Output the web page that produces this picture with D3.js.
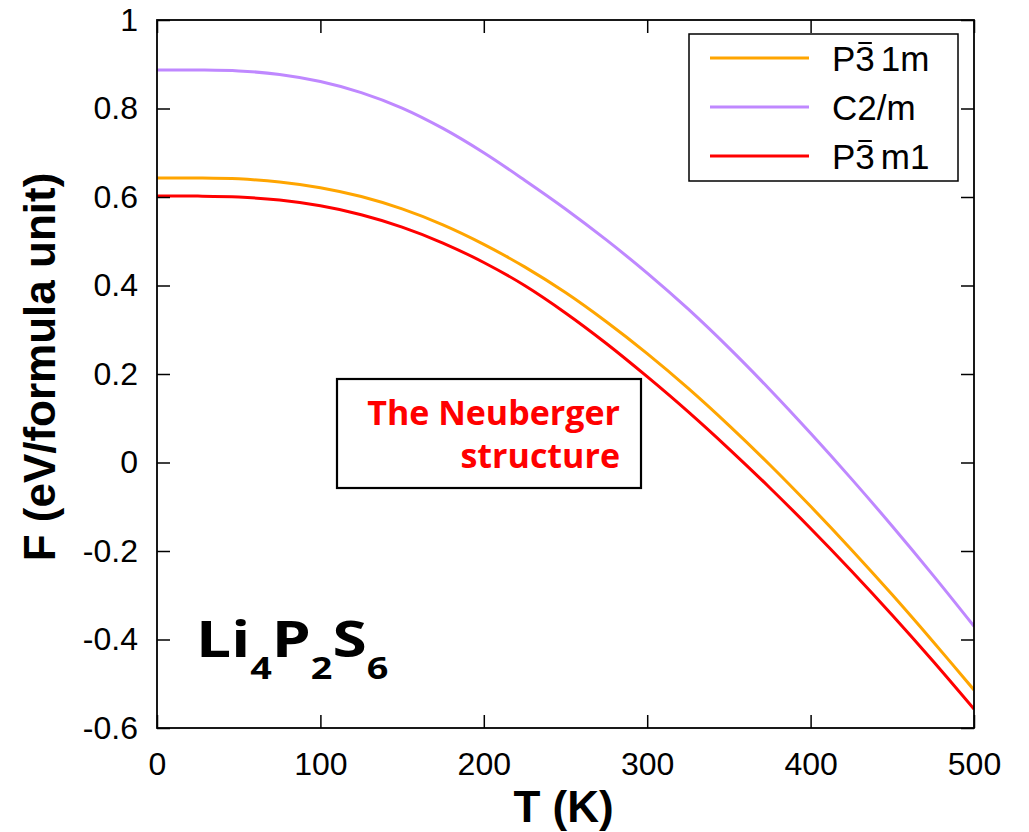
<!DOCTYPE html>
<html lang="en">
<head>
<meta charset="UTF-8">
<title>Li4P2S6 free energy</title>
<script src="https://d3js.org/d3.v7.min.js"></script>
<style>
    body { margin: 0; background: white; }
</style>
</head>
<body>
<svg width="1029" height="832" id="chart"></svg>
<script>
    // temperature grid (K) and free energies (eV/formula unit)
    const temps = [0, 25, 50, 75, 100, 125, 150, 175, 200, 225, 250, 275, 300, 325, 350, 375, 400, 425, 450, 475, 500];
    const fP31m = [0.643, 0.643, 0.641, 0.634, 0.621, 0.601, 0.573, 0.537, 0.493, 0.442, 0.384, 0.318, 0.246, 0.168, 0.084, -0.005, -0.099, -0.197, -0.299, -0.405, -0.514];
    const fC2m = [0.887, 0.887, 0.885, 0.877, 0.861, 0.836, 0.801, 0.755, 0.700, 0.638, 0.573, 0.503, 0.428, 0.347, 0.259, 0.165, 0.066, -0.037, -0.144, -0.255, -0.370];
    const fP3m1 = [0.602, 0.602, 0.600, 0.593, 0.580, 0.560, 0.532, 0.496, 0.452, 0.400, 0.338, 0.269, 0.194, 0.115, 0.031, -0.057, -0.149, -0.245, -0.345, -0.449, -0.557];

    const xTicks = [0, 100, 200, 300, 400, 500];
    const yTicks = [-0.6, -0.4, -0.2, 0, 0.2, 0.4, 0.6, 0.8, 1];

    // legend: name split as [before bar, barred char, after bar]
    const series = [
        { parts: ["P", "3", "1m"], values: fP31m, color: "#ffa500" },
        { parts: ["C2/m", "", ""], values: fC2m, color: "#bf88ff" },
        { parts: ["P", "3", "m1"], values: fP3m1, color: "#ff0000" }
    ];

    const svg = d3.select("#chart");
    const pLeft = 157, pRight = 974, pTop = 20, pBottom = 728;

    const x = d3.scaleLinear().domain([0, 500]).range([pLeft, pRight]);
    const y = d3.scaleLinear().domain([-0.6, 1]).range([pBottom, pTop]);

    const fmt = d => String(+d.toFixed(1));
    const tickFont = "'Liberation Sans', Arial, sans-serif";
    const boldFont = "'Open Sans', 'Noto Sans', sans-serif";

    // curves
    const line = d3.line()
        .x((d, i) => x(temps[i]))
        .y(d => y(d))
        .curve(d3.curveCatmullRom);

    svg.append("defs").append("clipPath").attr("id", "plotClip")
        .append("rect").attr("x", pLeft).attr("y", pTop)
        .attr("width", pRight - pLeft).attr("height", pBottom - pTop);

    series.forEach(s => {
        svg.append("path")
            .datum(s.values)
            .attr("d", line)
            .attr("fill", "none")
            .attr("stroke", s.color)
            .attr("stroke-width", 3)
            .attr("clip-path", "url(#plotClip)");
    });

    // axes, ticks inward on all four sides
    svg.append("g").attr("transform", `translate(0,${pBottom})`)
        .call(d3.axisBottom(x).tickValues(xTicks).tickSize(-13).tickPadding(24).tickFormat(fmt));
    svg.append("g").attr("transform", `translate(${pLeft},0)`)
        .call(d3.axisLeft(y).tickValues(yTicks).tickSize(-13).tickPadding(19).tickFormat(fmt));
    svg.append("g").attr("transform", `translate(0,${pTop})`)
        .call(d3.axisTop(x).tickValues(xTicks).tickSize(-13).tickFormat(""));
    svg.append("g").attr("transform", `translate(${pRight},0)`)
        .call(d3.axisRight(y).tickValues(yTicks).tickSize(-13).tickFormat(""));

    svg.selectAll(".domain").remove();
    svg.selectAll(".tick line").attr("stroke", "black").attr("stroke-width", 1.5);
    svg.selectAll(".tick text")
        .attr("font-family", tickFont)
        .attr("font-size", 32)
        .attr("fill", "black");

    svg.append("rect")
        .attr("x", pLeft).attr("y", pTop)
        .attr("width", pRight - pLeft).attr("height", pBottom - pTop)
        .attr("fill", "none").attr("stroke", "black").attr("stroke-width", 1.8);

    // axis titles
    svg.append("text")
        .attr("x", (pLeft + pRight) / 2 - 2)
        .attr("y", 822)
        .attr("text-anchor", "middle")
        .attr("font-family", tickFont)
        .attr("font-weight", "bold")
        .attr("font-size", 44)
        .text("T (K)");

    svg.append("text")
        .attr("transform", "translate(55,367) rotate(-90)")
        .attr("text-anchor", "middle")
        .attr("font-family", tickFont)
        .attr("font-weight", "bold")
        .attr("font-size", 44)
        .text("F (eV/formula unit)");

    // legend
    const lg = svg.append("g");
    lg.append("rect")
        .attr("x", 689).attr("y", 34).attr("width", 269).attr("height", 147)
        .attr("fill", "white").attr("stroke", "black").attr("stroke-width", 1.5);

    series.forEach((s, i) => {
        const ly = 58 + i * 49;
        lg.append("line")
            .attr("x1", 710).attr("x2", 809).attr("y1", ly).attr("y2", ly)
            .attr("stroke", s.color).attr("stroke-width", 3);
        const t = lg.append("text")
            .attr("x", 832).attr("y", ly + 13)
            .attr("font-family", tickFont)
            .attr("font-size", 35)
            .attr("fill", "black");
        t.append("tspan").text(s.parts[0]);
        if (s.parts[1]) {
            t.append("tspan").text(s.parts[1]);
            t.append("tspan").attr("dx", 6).text(s.parts[2]);
            const ext = t.node().getExtentOfChar(s.parts[0].length);
            lg.append("line")
                .attr("x1", ext.x + 3).attr("x2", ext.x + ext.width - 3)
                .attr("y1", ly - 15).attr("y2", ly - 15)
                .attr("stroke", "black").attr("stroke-width", 2);
        }
    });

    // annotation box
    const bx = svg.append("g");
    bx.append("rect")
        .attr("x", 337).attr("y", 379).attr("width", 304).attr("height", 109)
        .attr("fill", "white").attr("stroke", "black").attr("stroke-width", 2.2);
    ["The Neuberger", "structure"].forEach((txt, i) => {
        bx.append("text")
            .attr("x", 620).attr("y", 425 + i * 43)
            .attr("text-anchor", "end")
            .attr("font-family", boldFont)
            .attr("font-weight", "bold")
            .attr("font-size", 34)
            .attr("fill", "#ff0000")
            .text(txt);
    });

    // compound label Li4P2S6 (stretched a little to match the wider original face)
    const cl = svg.append("text")
        .attr("transform", "translate(196,657) scale(1.22,1)")
        .attr("font-family", boldFont)
        .attr("font-weight", "bold")
        .attr("font-size", 51)
        .attr("fill", "black");
    [["Li", false], ["4", true], ["P", false], ["2", true], ["S", false], ["6", true]].forEach(([s, sub], i) => {
        const ts = cl.append("tspan").text(s);
        if (sub) ts.attr("font-size", 31).attr("dy", 22);
        else if (i > 0) ts.attr("dy", -22);
    });
</script>
</body>
</html>
